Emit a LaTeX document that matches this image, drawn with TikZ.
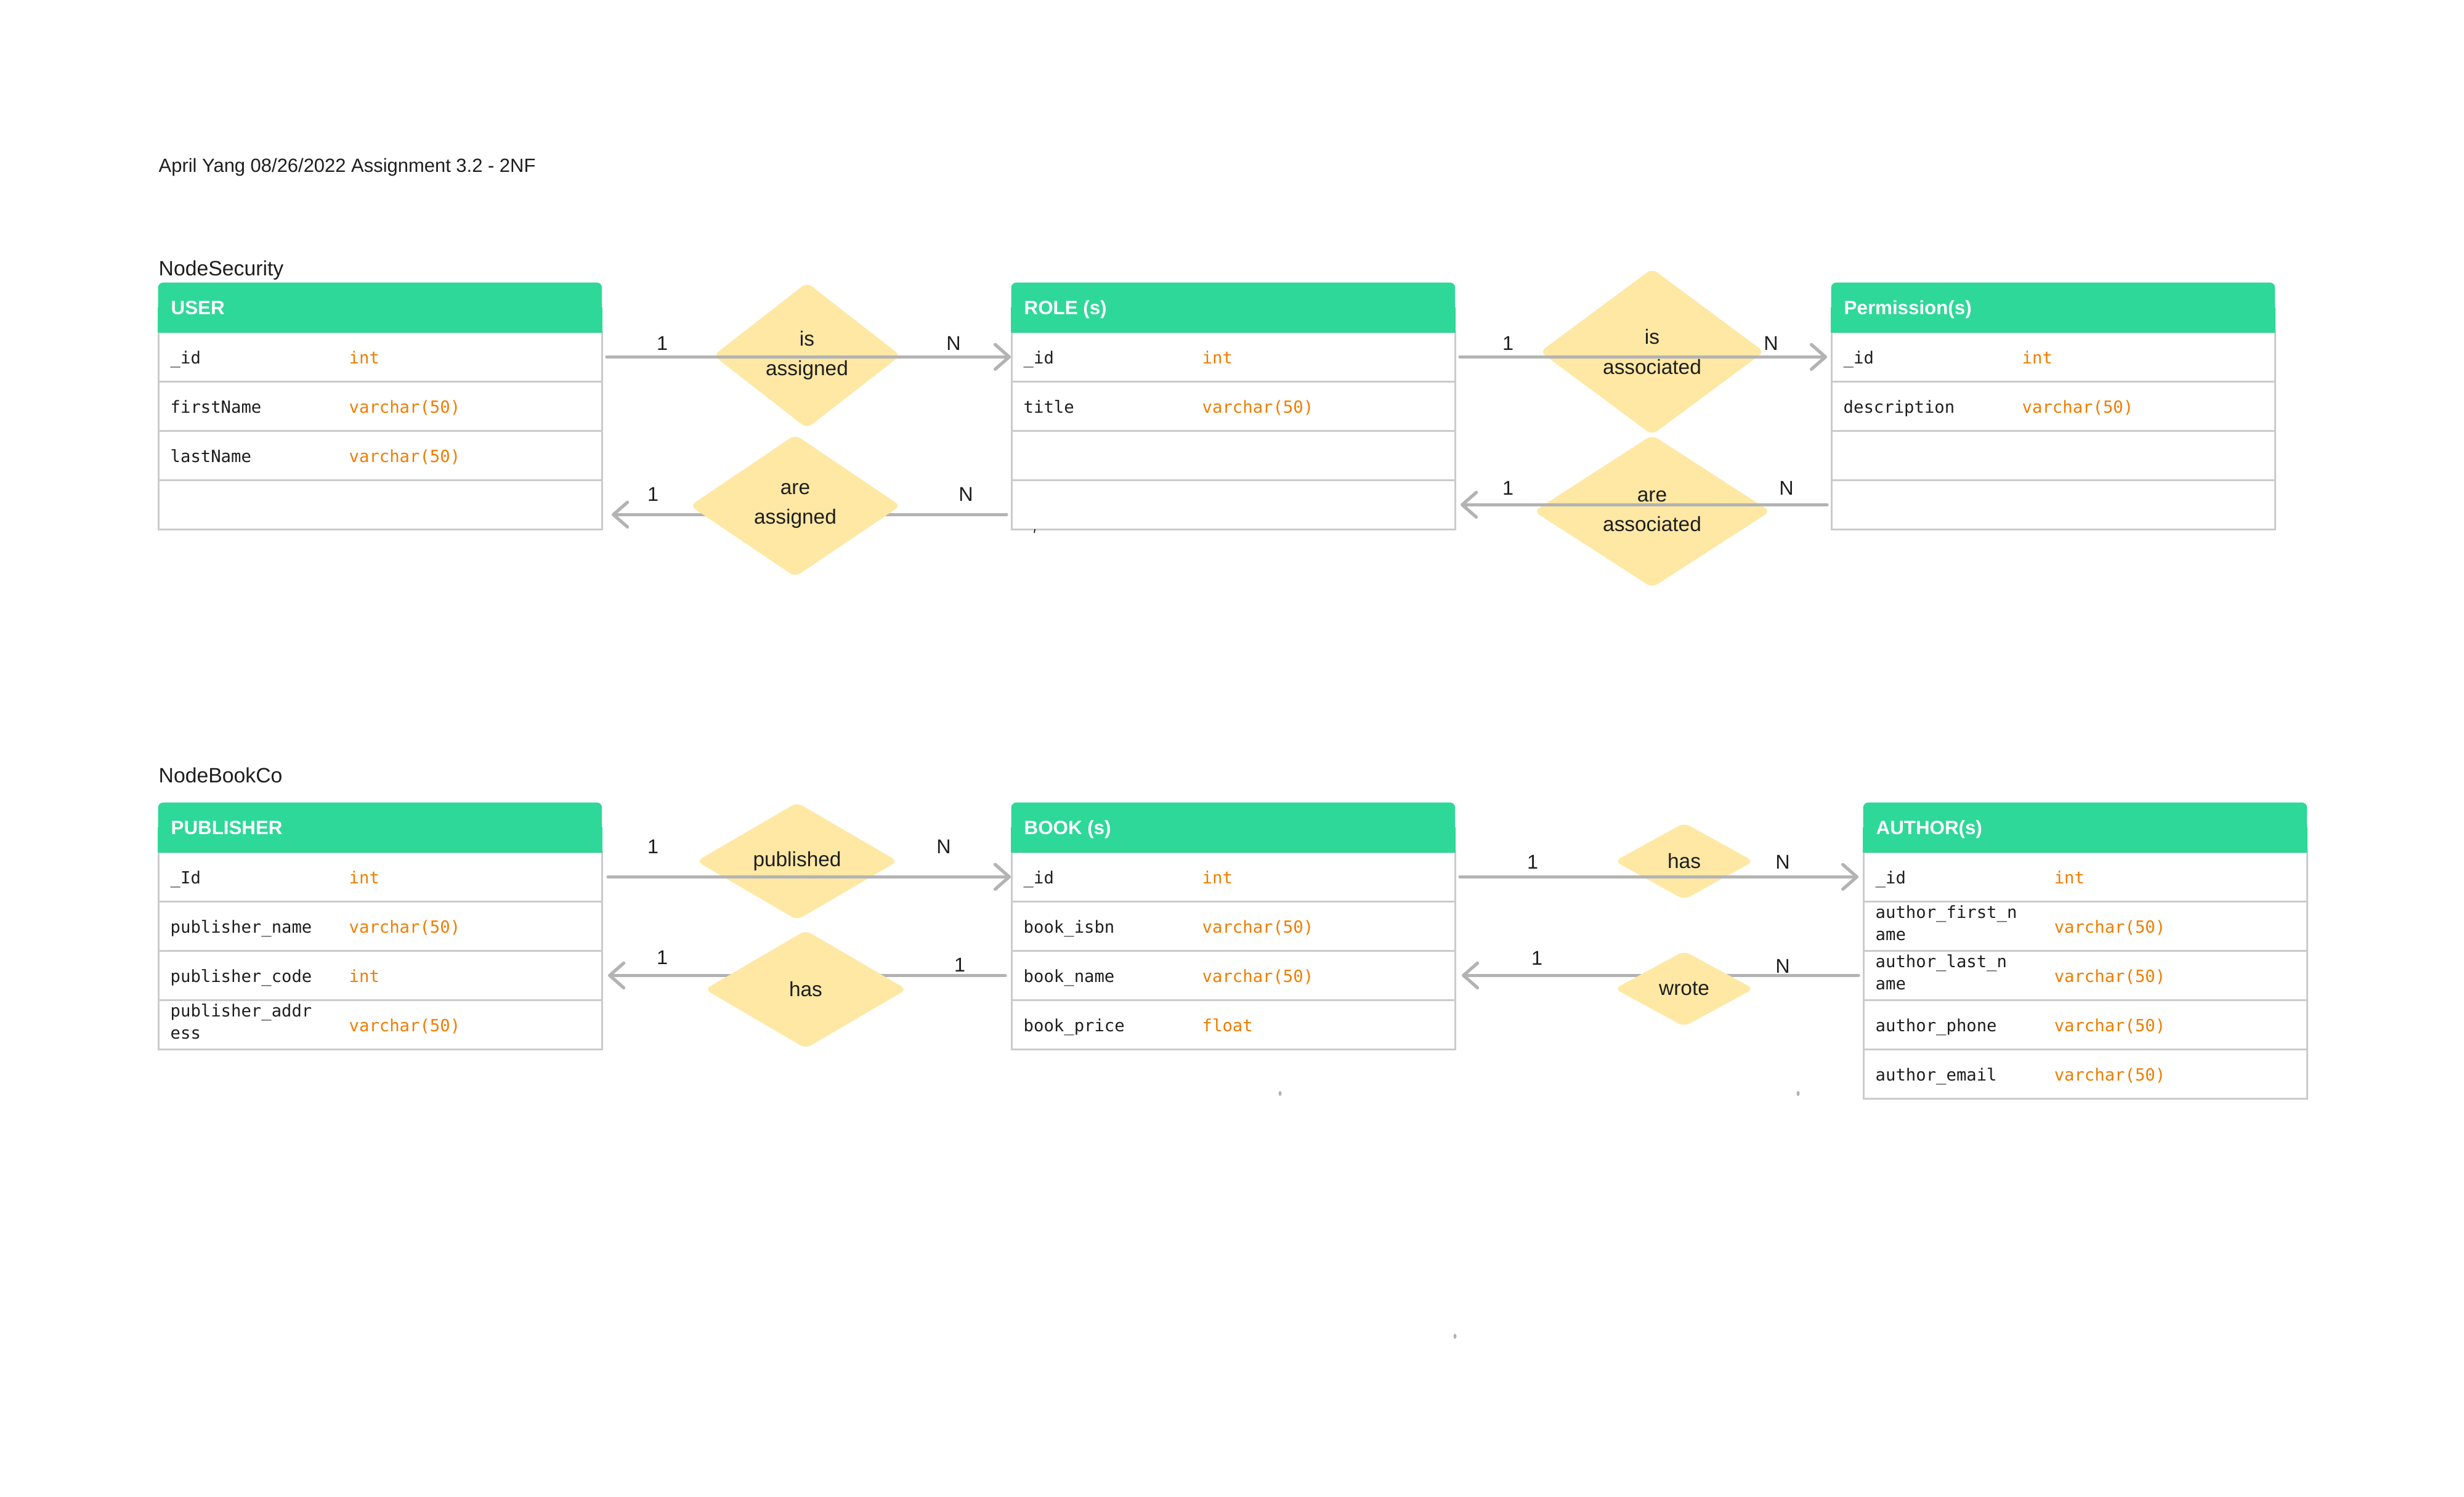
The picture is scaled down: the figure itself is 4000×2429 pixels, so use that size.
\documentclass[tikz,border=0pt]{standalone}
\usepackage{fontspec}
\setmainfont{Liberation Sans}
\setmonofont{DejaVu Sans Mono}
\usepackage{tikz}
\usetikzlibrary{shapes.geometric,arrows.meta,calc}
\definecolor{hdrgreen}{HTML}{2ED898}
\definecolor{relyellow}{HTML}{FEE8A4}
\definecolor{linegray}{HTML}{B3B3B3}
\definecolor{rowgray}{HTML}{CBCBCB}
\definecolor{typeorange}{HTML}{F07D00}
\definecolor{ink}{HTML}{1E1E1E}

\begin{document}
\begin{tikzpicture} [
    x = 0.01cm, y = -0.01cm,
    inner sep = 0,
    cell/.style = { draw = rowgray, line width = 0.75pt, fill = white, anchor = north west, minimum width = 7.2cm, minimum height = 0.8cm },
    hdr/.style = { fill = hdrgreen, rounded corners = 0.08cm, anchor = north west, minimum width = 7.2cm, minimum height = 0.81cm },
    hdrtxt/.style = { anchor = base west, text = white, font = \bfseries\fontsize{8.9}{11}\selectfont },
    fld/.style = { anchor = base west, text = ink, align = left, font = \ttfamily\fontsize{7.75}{10.2}\selectfont },
    typ/.style = { anchor = base west, text = typeorange, font = \ttfamily\fontsize{7.75}{10.2}\selectfont },
    rel/.style = { diamond, fill = relyellow, rounded corners = 0.1cm, align = center, text = ink, font = \fontsize{9.5}{13.7}\selectfont },
    card/.style = { anchor = base, text = ink, font = \fontsize{9.2}{11}\selectfont },
    grp/.style = { anchor = base west, text = ink, font = \fontsize{9.6}{12}\selectfont },
    conn/.style = { draw = linegray, line width = 1.5pt, line cap = round, -{Straight Barb[length=6.5pt, width=11.4pt, round]} }
    ]

    \fill[white] (0,0) rectangle (4000,2429);
    \useasboundingbox (0,0) rectangle (4000,2429);

    \node[grp, font=\fontsize{8.8}{11}\selectfont] (title) at (257,279) {April Yang 08/26/2022 Assignment 3.2 - 2NF};
    \node[grp] (nodeSecurity) at (257,447) {NodeSecurity};
    \node[grp] (nodeBookCo) at (257,1270) {NodeBookCo};

    % NodeSecurity tables
    \coordinate (userO) at (256,458);
    \foreach \f/\t [count=\i] in {\_id/int, firstName/varchar(50), lastName/varchar(50), /} {
        \node[cell] (user-\i) at ($(userO)+(0,80*\i)$) {};
        \node[fld] (user-f\i) at ($(user-\i.west)+(20,11)$) {\f};
        \node[typ] (user-t\i) at ($(user-\i.west)+(310,11)$) {\t};
    }
    \node[hdr] (user) at (userO) {};
    \fill[hdrgreen] (user.west) rectangle (user.south east);
    \node[hdrtxt] (user-h) at ($(user.west)+(21,11)$) {USER};

    \coordinate (roleO) at (1641,458);
    \foreach \f/\t [count=\i] in {\_id/int, title/varchar(50), /, /} {
        \node[cell] (role-\i) at ($(roleO)+(0,80*\i)$) {};
        \node[fld] (role-f\i) at ($(role-\i.west)+(20,11)$) {\f};
        \node[typ] (role-t\i) at ($(role-\i.west)+(310,11)$) {\t};
    }
    \node[hdr] (role) at (roleO) {};
    \fill[hdrgreen] (role.west) rectangle (role.south east);
    \node[hdrtxt] (role-h) at ($(role.west)+(21,11)$) {ROLE (s)};

    \coordinate (permO) at (2972,458);
    \foreach \f/\t [count=\i] in {\_id/int, description/varchar(50), /, /} {
        \node[cell] (perm-\i) at ($(permO)+(0,80*\i)$) {};
        \node[fld] (perm-f\i) at ($(perm-\i.west)+(20,11)$) {\f};
        \node[typ] (perm-t\i) at ($(perm-\i.west)+(310,11)$) {\t};
    }
    \node[hdr] (perm) at (permO) {};
    \fill[hdrgreen] (perm.west) rectangle (perm.south east);
    \node[hdrtxt] (perm-h) at ($(perm.west)+(21,11)$) {Permission(s)};

    % NodeBookCo tables
    \coordinate (pubO) at (256,1302);
    \foreach \f/\t/\d [count=\i] in {\_Id/int/11, publisher\_name/varchar(50)/11, publisher\_code/int/11, publisher\_addr\\ess/varchar(50)/23} {
        \node[cell] (pub-\i) at ($(pubO)+(0,80*\i)$) {};
        \node[fld] (pub-f\i) at ($(pub-\i.west)+(20,\d)$) {\f};
        \node[typ] (pub-t\i) at ($(pub-\i.west)+(310,11)$) {\t};
    }
    \node[hdr] (pub) at (pubO) {};
    \fill[hdrgreen] (pub.west) rectangle (pub.south east);
    \node[hdrtxt] (pub-h) at ($(pub.west)+(21,11)$) {PUBLISHER};

    \coordinate (bookO) at (1641,1302);
    \foreach \f/\t [count=\i] in {\_id/int, book\_isbn/varchar(50), book\_name/varchar(50), book\_price/float} {
        \node[cell] (book-\i) at ($(bookO)+(0,80*\i)$) {};
        \node[fld] (book-f\i) at ($(book-\i.west)+(20,11)$) {\f};
        \node[typ] (book-t\i) at ($(book-\i.west)+(310,11)$) {\t};
    }
    \node[hdr] (book) at (bookO) {};
    \fill[hdrgreen] (book.west) rectangle (book.south east);
    \node[hdrtxt] (book-h) at ($(book.west)+(21,11)$) {BOOK (s)};

    \coordinate (authO) at (3024,1302);
    \foreach \f/\t/\d [count=\i] in {\_id/int/11, author\_first\_n\\ame/varchar(50)/23, author\_last\_n\\ame/varchar(50)/23, author\_phone/varchar(50)/11, author\_email/varchar(50)/11} {
        \node[cell] (auth-\i) at ($(authO)+(0,80*\i)$) {};
        \node[fld] (auth-f\i) at ($(auth-\i.west)+(20,\d)$) {\f};
        \node[typ] (auth-t\i) at ($(auth-\i.west)+(310,11)$) {\t};
    }
    \node[hdr] (auth) at (authO) {};
    \fill[hdrgreen] (auth.west) rectangle (auth.south east);
    \node[hdrtxt] (auth-h) at ($(auth.west)+(21,11)$) {AUTHOR(s)};

    % USER - ROLE
    \node[rel, minimum width=3.04cm, minimum height=2.37cm] (isAssigned) at (1310,577) {is\\assigned};
    \draw[conn] ($(user-1.east)+(6,0)$) -- (role-1.west);
    \node[card] (isAssigned-1) at (1075,568) {1};
    \node[card] (isAssigned-N) at (1548,568) {N};
    \draw[conn] ($(role-4.west)+(-7,16)$) -- ($(user-4.east)+(14,16)$);
    \node[rel, minimum width=3.42cm, minimum height=2.31cm] (areAssigned) at (1291,821) {are\\assigned};
    \node[card] (areAssigned-1) at (1060,813) {1};
    \node[card] (areAssigned-N) at (1568,813) {N};

    % ROLE - Permission
    \node[rel, minimum width=3.64cm, minimum height=2.7cm] (isAssoc) at (2682,571) {is\\associated};
    \draw[conn] ($(role-1.east)+(6,0)$) -- ($(perm-1.west)+(-6,0)$);
    \node[card] (isAssoc-1) at (2448,568) {1};
    \node[card] (isAssoc-N) at (2875,568) {N};
    \node[rel, minimum width=3.84cm, minimum height=2.48cm] (areAssoc) at (2682,830) {are\\associated};
    \draw[conn] ($(perm-4.west)+(-6,0)$) -- ($(role-4.east)+(7,0)$);
    \node[card] (areAssoc-1) at (2448,803) {1};
    \node[card] (areAssoc-N) at (2900,803) {N};

    % PUBLISHER - BOOK
    \node[rel, minimum width=3.27cm, minimum height=1.91cm] (published) at (1294,1398) {published};
    \draw[conn] ($(pub-1.east)+(8,0)$) -- (book-1.west);
    \node[card] (published-1) at (1060,1385) {1};
    \node[card] (published-N) at (1532,1385) {N};
    \draw[conn] ($(book-3.west)+(-9,0)$) -- ($(pub-3.east)+(8,0)$);
    \node[rel, minimum width=3.28cm, minimum height=1.92cm] (hasPub) at (1308,1606) {has};
    \node[card] (hasPub-1) at (1075,1565) {1};
    \node[card] (hasPub-1b) at (1558,1577) {1};

    % BOOK - AUTHOR
    \node[rel, minimum width=2.26cm, minimum height=1.25cm] (hasAuth) at (2734,1398) {has};
    \draw[conn] ($(book-1.east)+(6,0)$) -- ($(auth-1.west)+(-7,0)$);
    \node[card] (hasAuth-1) at (2488,1410) {1};
    \node[card] (hasAuth-N) at (2894,1410) {N};
    \draw[conn] ($(auth-3.west)+(-7,0)$) -- ($(book-3.east)+(9,0)$);
    \node[rel, minimum width=2.26cm, minimum height=1.23cm] (wrote) at (2734,1605) {wrote};
    \node[card] (wrote-1) at (2495,1566) {1};
    \node[card] (wrote-N) at (2894,1579) {N};

    % stray marks
    \draw[ink, line width=0.5pt] (1680,859) -- (1679,865);
    \fill[linegray] (2078,1775) ellipse (0.025cm and 0.04cm);
    \fill[linegray] (2919,1775) ellipse (0.025cm and 0.04cm);
    \fill[linegray] (2362,2169) ellipse (0.025cm and 0.04cm);

\end{tikzpicture}
\end{document}
